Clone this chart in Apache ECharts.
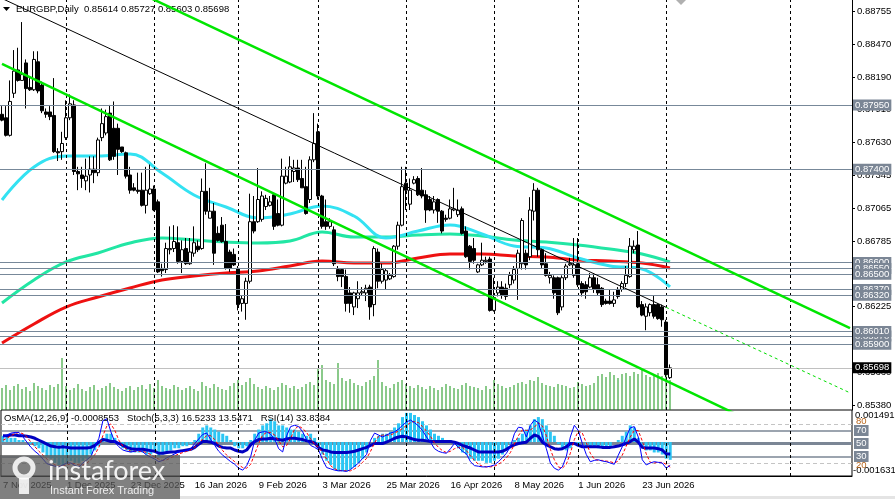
<!DOCTYPE html>
<html>
<head>
<meta charset="utf-8">
<title>EURGBP Daily</title>
<script src="https://cdn.jsdelivr.net/npm/echarts@6.0.0/dist/echarts.min.js"></script>
<style>
  html, body { margin: 0; padding: 0; background: #fff; }
  #chart { width: 895px; height: 499px; }
</style>
</head>
<body>
<div id="chart"></div>
<script>
// daily candles, [open, close, low, high], one per trading day from 7 Nov 2025
const candles = [
  [0.8787,0.8782,0.8781,0.8794],[0.8784,0.8769,0.8768,0.8794],[0.8769,0.8798,0.8768,0.8816],[0.8805,0.8824,0.8801,0.8842],
  [0.8825,0.8816,0.8815,0.8844],[0.8816,0.8821,0.8816,0.8866],[0.8831,0.8809,0.8792,0.8834],[0.8810,0.8808,0.8807,0.8819],
  [0.8808,0.8834,0.8807,0.8841],[0.8832,0.8807,0.8805,0.8841],[0.8812,0.8790,0.8788,0.8815],[0.8789,0.8787,0.8784,0.8792],
  [0.8789,0.8785,0.8782,0.8794],[0.8786,0.8755,0.8754,0.8818],[0.8755,0.8754,0.8747,0.8758],[0.8755,0.8762,0.8748,0.8772],
  [0.8767,0.8784,0.8765,0.8799],[0.8784,0.8796,0.8782,0.8804],[0.8795,0.8738,0.8735,0.8799],[0.8738,0.8736,0.8722,0.8742],
  [0.8735,0.8732,0.8724,0.8742],[0.8730,0.8734,0.8722,0.8749],[0.8735,0.8740,0.8720,0.8751],[0.8740,0.8737,0.8728,0.8751],
  [0.8737,0.8765,0.8734,0.8767],[0.8767,0.8779,0.8764,0.8792],[0.8771,0.8785,0.8769,0.8791],[0.8788,0.8748,0.8747,0.8795],
  [0.8775,0.8751,0.8748,0.8798],[0.8775,0.8757,0.8735,0.8779],[0.8759,0.8755,0.8754,0.8759],[0.8754,0.8734,0.8732,0.8755],
  [0.8735,0.8722,0.8719,0.8742],[0.8724,0.8722,0.8721,0.8728],[0.8722,0.8721,0.8719,0.8737],[0.8722,0.8709,0.8708,0.8737],
  [0.8709,0.8722,0.8702,0.8742],[0.8719,0.8723,0.8718,0.8744],[0.8723,0.8705,0.8704,0.8726],[0.8712,0.8652,0.8651,0.8714],
  [0.8655,0.8653,0.8648,0.8659],[0.8654,0.8672,0.8651,0.8677],[0.8671,0.8672,0.8667,0.8691],[0.8672,0.8678,0.8669,0.8692],
  [0.8677,0.8661,0.8659,0.8691],[0.8661,0.8671,0.8651,0.8679],[0.8672,0.8659,0.8658,0.8681],[0.8659,0.8669,0.8658,0.8681],
  [0.8668,0.8677,0.8665,0.8691],[0.8674,0.8671,0.8669,0.8679],[0.8672,0.8721,0.8671,0.8732],[0.8721,0.8704,0.8701,0.8745],
  [0.8698,0.8704,0.8698,0.8724],[0.8704,0.8668,0.8658,0.8711],[0.8685,0.8679,0.8678,0.8691],[0.8692,0.8678,0.8677,0.8699],
  [0.8678,0.8655,0.8654,0.8693],[0.8669,0.8655,0.8652,0.8671],[0.8667,0.8658,0.8657,0.8672],[0.8655,0.8624,0.8619,0.8657],
  [0.8625,0.8629,0.8618,0.8632],[0.8625,0.8644,0.8611,0.8647],[0.8644,0.8695,0.8642,0.8719],[0.8695,0.8687,0.8685,0.8717],
  [0.8695,0.8714,0.8694,0.8741],[0.8697,0.8717,0.8695,0.8721],[0.8708,0.8715,0.8705,0.8718],[0.8709,0.8712,0.8708,0.8717],
  [0.8718,0.8691,0.8688,0.8719],[0.8702,0.8692,0.8691,0.8714],[0.8692,0.8734,0.8691,0.8749],[0.8728,0.8734,0.8727,0.8742],
  [0.8729,0.8742,0.8728,0.8751],[0.8738,0.8741,0.8729,0.8748],[0.8741,0.8731,0.8729,0.8748],[0.8732,0.8724,0.8724,0.8748],
  [0.8725,0.8702,0.8701,0.8742],[0.8714,0.8748,0.8711,0.8751],[0.8748,0.8762,0.8746,0.8788],[0.8772,0.8717,0.8714,0.8779],
  [0.8717,0.8691,0.8689,0.8718],[0.8695,0.8691,0.8688,0.8714],[0.8691,0.8695,0.8689,0.8698],[0.8688,0.8659,0.8657,0.8691],
  [0.8654,0.8648,0.8644,0.8657],[0.8654,0.8648,0.8639,0.8655],[0.8648,0.8625,0.8618,0.8654],[0.8634,0.8625,0.8617,0.8639],
  [0.8622,0.8634,0.8615,0.8635],[0.8629,0.8634,0.8621,0.8644],[0.8634,0.8635,0.8632,0.8639],[0.8634,0.8638,0.8627,0.8641],
  [0.8639,0.8622,0.8611,0.8641],[0.8624,0.8672,0.8614,0.8674],[0.8669,0.8644,0.8638,0.8672],[0.8644,0.8654,0.8642,0.8659],
  [0.8645,0.8653,0.8637,0.8655],[0.8646,0.8649,0.8645,0.8651],[0.8648,0.8674,0.8647,0.8675],[0.8674,0.8692,0.8671,0.8695],
  [0.8692,0.8725,0.8691,0.8742],[0.8728,0.8722,0.8705,0.8742],[0.8710,0.8722,0.8705,0.8732],[0.8728,0.8731,0.8727,0.8734],
  [0.8732,0.8718,0.8717,0.8734],[0.8722,0.8717,0.8715,0.8741],[0.8718,0.8705,0.8694,0.8722],[0.8714,0.8705,0.8704,0.8717],
  [0.8705,0.8712,0.8702,0.8717],[0.8714,0.8704,0.8694,0.8715],[0.8704,0.8687,0.8685,0.8705],[0.8698,0.8697,0.8695,0.8701],
  [0.8698,0.8706,0.8697,0.8714],[0.8705,0.8706,0.8704,0.8724],[0.8701,0.8705,0.8699,0.8714],[0.8706,0.8685,0.8684,0.8708],
  [0.8687,0.8665,0.8664,0.8691],[0.8674,0.8661,0.8654,0.8675],[0.8672,0.8662,0.8659,0.8681],[0.8652,0.8658,0.8651,0.8659],
  [0.8658,0.8662,0.8657,0.8677],[0.8661,0.8662,0.8659,0.8665],[0.8663,0.8619,0.8618,0.8665],[0.8619,0.8630,0.8618,0.8647],
  [0.8634,0.8639,0.8631,0.8644],[0.8639,0.8632,0.8629,0.8644],[0.8638,0.8631,0.8628,0.8642],[0.8641,0.8649,0.8638,0.8652],
  [0.8645,0.8654,0.8642,0.8657],[0.8655,0.8668,0.8628,0.8671],[0.8659,0.8696,0.8654,0.8698],[0.8668,0.8658,0.8654,0.8671],
  [0.8665,0.8705,0.8662,0.8716],[0.8704,0.8722,0.8696,0.8728],[0.8722,0.8671,0.8665,0.8724],[0.8671,0.8658,0.8655,0.8672],
  [0.8659,0.8649,0.8648,0.8668],[0.8647,0.8649,0.8642,0.8652],[0.8647,0.8634,0.8629,0.8649],[0.8647,0.8617,0.8615,0.8648],
  [0.8622,0.8647,0.8619,0.8649],[0.8647,0.8657,0.8645,0.8659],[0.8658,0.8659,0.8657,0.8664],[0.8649,0.8658,0.8647,0.8681],
  [0.8659,0.8641,0.8639,0.8681],[0.8642,0.8634,0.8631,0.8644],[0.8641,0.8635,0.8629,0.8644],[0.8639,0.8647,0.8638,0.8651],
  [0.8647,0.8637,0.8634,0.8651],[0.8641,0.8634,0.8632,0.8647],[0.8638,0.8624,0.8622,0.8639],[0.8627,0.8625,0.8624,0.8629],
  [0.8627,0.8625,0.8624,0.8637],[0.8625,0.8628,0.8622,0.8635],[0.8637,0.8631,0.8629,0.8639],[0.8637,0.8642,0.8635,0.8644],
  [0.8642,0.8649,0.8639,0.8657],[0.8648,0.8674,0.8647,0.8681],[0.8671,0.8674,0.8668,0.8679],[0.8675,0.8622,0.8621,0.8687],
  [0.8624,0.8615,0.8614,0.8627],[0.8614,0.8622,0.8602,0.8625],[0.8617,0.8624,0.8614,0.8625],[0.8624,0.8614,0.8612,0.8632],
  [0.8624,0.8612,0.8611,0.8625],[0.8622,0.8611,0.8605,0.8624],[0.8609,0.8564,0.8562,0.8611],[0.85614,0.85698,0.85603,0.85727]
];

// tick volume per day
const volumes = [
  22,25,20,24,26,21,23,19,27,24,22,20,25,23,26,52,
  24,20,22,26,21,19,23,25,20,22,24,27,23,21,19,22,24,20,23,25,21,26,22,
  30,24,22,21,25,23,20,22,24,21,19,28,24,22,26,23,21,20,24,27,30,25,
  28,32,26,23,21,24,22,20,23,27,25,22,24,21,23,26,28,25,42,
  45,30,28,26,47,32,29,31,27,25,24,28,30,34,50,28,24,22,26,28,30,
  26,24,22,25,23,21,24,22,20,23,26,24,22,21,25,27,24,23,22,20,24,21,30,
  26,24,22,23,25,27,28,26,30,29,33,27,25,24,23,26,25,24,22,23,28,26,24,25,27,
  34,36,33,38,35,32,36,37,34,38,36,40,35,33,36,37,34,42,30
];

// moving averages, read every 8th bar
const maBars = [0,8,16,24,32,40,48,56,64,72,80,88,96,104,112,120,128,136,144,152,160,167];
const maFast = [0.87136,0.87419,0.87513,0.87513,0.87530,0.87367,0.87179,0.87076,0.86982,0.87016,0.87085,
  0.86999,0.86811,0.86870,0.86922,0.86845,0.86742,0.86725,0.86639,0.86571,0.86545,0.86391];
const maMid = [0.86254,0.86451,0.86605,0.86682,0.86768,0.86811,0.86793,0.86776,0.86768,0.86785,0.86862,
  0.86819,0.86819,0.86836,0.86845,0.86828,0.86793,0.86776,0.86751,0.86716,0.86673,0.86605];
const maSlow = [0.85911,0.86074,0.86219,0.86305,0.86382,0.86451,0.86485,0.86511,0.86528,0.86571,0.86613,
  0.86596,0.86596,0.86639,0.86673,0.86673,0.86656,0.86648,0.86622,0.86613,0.86596,0.86554];

// channel lines, [bar, price]
const channelUpper = [[0, 0.89466], [212, 0.86039]];
const channelMid = [[0, 0.88862], [166, 0.86217]];
const channelMidExt = [[166, 0.86217], [212, 0.85484]];
const channelLower = [[0, 0.88301], [212, 0.84836]];

// horizontal levels
const levels = [0.8795, 0.8740, 0.8660, 0.8655, 0.8650, 0.8637, 0.8632, 0.8597, 0.8601, 0.8590];
const lastPrice = 0.85698;
const priceTicks = [0.88755,0.88470,0.88190,0.87910,0.87630,0.87345,0.87065,0.86785,0.86505,0.86225,0.85945,0.85660,0.85380];

// time axis
const dateLabels = ['7 Nov 2025','1 Dec 2025','23 Dec 2025','16 Jan 2026','9 Feb 2026','3 Mar 2026',
  '25 Mar 2026','16 Apr 2026','8 May 2026','1 Jun 2026','23 Jun 2026'];
const labelStep = 16;
const monthStarts = [16, 38, 59, 79, 101, 123, 144, 166, 197];
const slotCount = 213;

// OsMA(12,26,9)
const osma = [
  0.0003,0.0003,0.0002,0.0002,0.0001,0.0001,0.0000,-0.0001,-0.0002,
  -0.0003,-0.0005,-0.0007,-0.0008,-0.0010,-0.0011,-0.0011,-0.0010,-0.0009,-0.0010,-0.0010,-0.0009,-0.0008,-0.0006,-0.0004,-0.0002,
  0.0002,0.0004,0.0004,0.0002,
  -0.0001,-0.0003,-0.0004,-0.0005,-0.0005,-0.0005,-0.0005,
  -0.0006,-0.0006,-0.0005,-0.0007,-0.0006,-0.0005,
  -0.0004,-0.0003,-0.0003,-0.0002,-0.0002,-0.0001,0.0001,
  0.0004,0.0007,0.0008,0.0007,0.0006,0.0005,0.0004,0.0003,
  0.0001,-0.0002,-0.0003,-0.0003,-0.0002,
  0.0001,0.0004,0.0006,0.0008,0.0009,0.0011,0.0010,0.0008,0.0008,0.0007,0.0006,0.0006,0.0005,0.0004,0.0003,0.0004,0.0002,
  -0.0002,-0.0006,-0.0009,-0.0011,-0.0013,-0.0014,-0.0014,-0.0014,-0.0013,-0.0012,-0.0010,-0.0008,-0.0005,
  0.0000,0.0002,0.0003,0.0004,0.0004,0.0005,0.0007,0.0009,0.0012,0.0014,0.0014,0.0013,0.0012,0.0010,0.0008,0.0006,0.0004,0.0003,0.0002,0.0001,0.0001,
  -0.0001,-0.0003,-0.0005,-0.0006,-0.0008,-0.0009,-0.0009,-0.0009,-0.0010,-0.0010,-0.0009,-0.0008,-0.0006,-0.0004,
  -0.0001,0.0001,0.0002,0.0004,0.0006,0.0008,0.0011,0.0012,0.0011,0.0008,0.0005,0.0003,
  -0.0001,-0.0003,-0.0004,-0.0003,-0.0001,
  -0.0001,0.0000,-0.0002,-0.0002,-0.0002,-0.0003,-0.0003,-0.0002,-0.0002,
  0.0000,0.0001,0.0003,0.0005,0.0008,0.0007,
  0.0002,-0.0002,-0.0004,-0.0004,-0.0005,-0.0005,-0.0006,-0.0008,-0.0008553
];

// Stochastic(5,3,3) main and signal
const stochMain = [
  60,63,66,67,67,60,52,44,38,33, 26,19,17,15,14,17,20,20,16,14,
  20,25,30,45,58,85,88,68,52,45, 40,38,37,38,40,37,32,29,26,22,
  24,28,31,34,37,38,39,42,50,57, 64,66,56,47,38,32,27,22,18,12,
  9,16,30,55,66,68,68,64,57,42, 37,62,76,78,76,68,56,47,44,40,
  25,13,11,9,8,8,7,10,15,20, 27,33,55,66,63,60,63,66,68,72,
  78,83,86,82,77,70,60,52,42,38, 36,35,42,50,44,38,34,22,16,15,
  14,14,15,17,22,28,35,45,65,75, 74,60,78,86,82,62,42,20,12,9,
  14,30,60,78,70,50,33,22,24,25, 23,22,20,18,32,45,60,74,76,60,
  25,17,20,22,21,20,12,16.52
];
const stochSignal = [
  55,58,62,65,67,65,60,52,45,38, 32,26,21,17,15,15,17,19,19,17,
  17,20,25,33,44,62,77,80,70,55, 46,41,38,38,38,38,36,33,29,26,
  24,25,28,31,34,36,38,40,44,50, 57,62,62,56,47,39,32,27,22,17,
  13,12,18,34,50,63,67,67,63,54, 45,47,58,72,77,73,67,57,49,44,
  36,26,16,11,9,8,8,8,11,15, 21,27,38,51,61,63,63,63,66,69,
  73,78,82,84,82,76,69,61,51,44, 39,36,38,42,44,44,39,31,24,18,
  15,14,14,15,18,22,28,36,49,62, 71,70,71,75,82,77,62,41,25,14,
  12,18,35,56,69,66,51,35,26,24, 24,23,22,20,23,32,46,60,70,70,
  54,34,21,20,21,21,18,13.55
];

// RSI(14)
const rsi = [
  62,62,63,63,62,62,61,60,58,55, 52,49,46,45,44,45,44,43,43,43,
  43,43,44,47,52,56,55,53,53,50, 47,44,42,41,41,41,40,39,38,35,
  35,36,37,37,38,39,40,41,44,49, 53,53,52,50,46,44,43,43,40,38,
  37,40,48,53,56,57,57,58,57,56, 55,57,58,58,57,56,54,53,51,44,
  40,39,37,36,36,36,36,37,38,40, 42,44,47,50,50,50,52,55,58,60,
  61,60,58,56,55,55,54,53,53,53, 53,53,53,52,50,47,45,43,40,37,
  37,37,37,37,37,38,41,45,48,50, 51,52,58,63,61,52,48,45,42,41,
  42,45,50,50,47,45,45,45,45,45, 44,44,44,45,46,48,50,53,57,52,
  44,43,43,43,42,40,34,33.84
];

const FONT = '"Liberation Sans", Arial, sans-serif';
const slots = Array.from({ length: slotCount }, (_, i) => String(i));
const pairs = (ys) => maBars.map((b, i) => [b, ys[i]]);

const levelLine = { color: '#778899', width: 1, type: 'solid' };
const boxLabel = {
  show: true, position: 'end', distance: 1,
  color: '#fff', backgroundColor: '#7b8695', padding: [1, 2, 0, 2],
  fontFamily: FONT, fontSize: 9.5,
  formatter: (p) => Number(p.value).toFixed(5)
};
const sepLine = { color: '#000', width: 1, type: [3, 3] };

const chart = echarts.init(document.getElementById('chart'));

chart.setOption({
  animation: false,
  backgroundColor: '#fff',
  grid: [
    { left: -2, right: 43, top: 0, height: 410 },
    { left: -2, right: 43, top: 410, height: 66, show: true, borderColor: '#000', borderWidth: 1, backgroundColor: 'transparent' }
  ],
  xAxis: [
    { type: 'category', gridIndex: 0, data: slots, show: false },
    {
      type: 'category', gridIndex: 1, data: slots,
      axisLine: { lineStyle: { color: '#000' } },
      axisTick: { show: false },
      axisLabel: {
        interval: (idx) => idx % labelStep === 0 && idx / labelStep < dateLabels.length,
        formatter: (v, idx) => dateLabels[idx / labelStep] || '',
        align: 'left', margin: 4, color: '#000', fontFamily: FONT, fontSize: 9.5
      }
    }
  ],
  yAxis: [
    {
      type: 'value', gridIndex: 0, position: 'right', min: 0.85337, max: 0.88849,
      splitLine: { show: false },
      axisLine: { show: true, lineStyle: { color: '#000' } },
      axisTick: { show: true, length: 3, customValues: priceTicks, lineStyle: { color: '#000' } },
      axisLabel: {
        customValues: priceTicks, margin: 5, color: '#000', fontFamily: FONT, fontSize: 9.5,
        formatter: (v) => v.toFixed(5)
      }
    },
    { type: 'value', gridIndex: 0, min: 0, max: 410, show: false },
    { type: 'value', gridIndex: 1, min: 0, max: 101.5, show: false },
    { type: 'value', gridIndex: 1, min: -0.001631, max: 0.0015399, show: false }
  ],
  series: [
    {
      name: 'Volume', type: 'bar', xAxisIndex: 0, yAxisIndex: 1, data: volumes,
      barWidth: 1, itemStyle: { color: '#169616' }, z: 1,
      markLine: {
        silent: true, symbol: 'none', label: { show: false }, lineStyle: sepLine,
        data: monthStarts.map((b) => ({ xAxis: b }))
      }
    },
    {
      name: 'MA slow', type: 'line', xAxisIndex: 0, yAxisIndex: 0, data: pairs(maSlow),
      smooth: 0.4, symbol: 'none', lineStyle: { color: '#ee1111', width: 3 }, z: 3
    },
    {
      name: 'MA mid', type: 'line', xAxisIndex: 0, yAxisIndex: 0, data: pairs(maMid),
      smooth: 0.4, symbol: 'none', lineStyle: { color: '#22e6a4', width: 3 }, z: 3
    },
    {
      name: 'MA fast', type: 'line', xAxisIndex: 0, yAxisIndex: 0, data: pairs(maFast),
      smooth: 0.4, symbol: 'none', lineStyle: { color: '#33e2f2', width: 3 }, z: 3
    },
    {
      name: 'EURGBP', type: 'candlestick', xAxisIndex: 0, yAxisIndex: 0, data: candles,
      barWidth: 3, z: 5,
      itemStyle: { color: '#fff', color0: '#000', borderColor: '#000', borderColor0: '#000', borderWidth: 1 },
      markLine: {
        silent: true, symbol: 'none', precision: 5, z: 6,
        lineStyle: levelLine, label: boxLabel,
        data: levels.map((v) => ({ yAxis: v })).concat([{
          yAxis: lastPrice,
          lineStyle: { color: '#c0c0c0', width: 1, type: 'solid' },
          label: { backgroundColor: '#000', color: '#fff' }
        }])
      }
    },
    {
      name: 'Channel upper', type: 'line', xAxisIndex: 0, yAxisIndex: 0, data: channelUpper,
      symbol: 'none', lineStyle: { color: '#00e600', width: 2.5 }, z: 7
    },
    {
      name: 'Channel lower', type: 'line', xAxisIndex: 0, yAxisIndex: 0, data: channelLower,
      symbol: 'none', lineStyle: { color: '#00e600', width: 2.5 }, z: 7
    },
    {
      name: 'Channel mid', type: 'line', xAxisIndex: 0, yAxisIndex: 0, data: channelMid,
      symbol: 'none', lineStyle: { color: '#000', width: 1 }, z: 7
    },
    {
      name: 'Channel mid ext', type: 'line', xAxisIndex: 0, yAxisIndex: 0, data: channelMidExt,
      symbol: 'none', lineStyle: { color: '#00dd00', width: 1, type: [3, 3] }, z: 7
    },
    {
      name: 'OsMA', type: 'bar', xAxisIndex: 1, yAxisIndex: 3, data: osma,
      barWidth: 3, itemStyle: { color: '#2cc6f4' }, z: 2,
      markLine: {
        silent: true, symbol: 'none', label: { show: false }, lineStyle: sepLine,
        data: monthStarts.map((b) => ({ xAxis: b }))
      }
    },
    {
      name: 'RSI', type: 'line', xAxisIndex: 1, yAxisIndex: 2, data: rsi,
      symbol: 'none', lineStyle: { color: '#0000c0', width: 3 }, z: 4
    },
    {
      name: 'Stoch signal', type: 'line', xAxisIndex: 1, yAxisIndex: 2, data: stochSignal,
      symbol: 'none', lineStyle: { color: '#ff0000', width: 1, type: [3, 2] }, z: 4
    },
    {
      name: 'Stoch main', type: 'line', xAxisIndex: 1, yAxisIndex: 2, data: stochMain,
      symbol: 'none', lineStyle: { color: '#0000ff', width: 1 }, z: 4,
      markLine: {
        silent: true, symbol: 'none', z: 1,
        label: {
          show: true, position: 'end', distance: 2, color: '#fff', backgroundColor: '#7b8695',
          padding: [1, 2, 0, 2], fontFamily: FONT, fontSize: 9.5, formatter: (p) => String(p.value)
        },
        data: [
          { yAxis: 80, lineStyle: { color: '#c4c4c4', width: 1, type: [4, 3] },
            label: { color: '#b8651b', backgroundColor: 'transparent', offset: [0, -3] } },
          { yAxis: 20, lineStyle: { color: '#c4c4c4', width: 1, type: [4, 3] },
            label: { color: '#b8651b', backgroundColor: 'transparent', offset: [0, 2] } },
          { yAxis: 70, lineStyle: { color: '#7b8695', width: 1.5, type: 'solid' } },
          { yAxis: 50, lineStyle: { color: '#7b8695', width: 3, type: 'solid' } },
          { yAxis: 30, lineStyle: { color: '#7b8695', width: 1.5, type: 'solid' } }
        ]
      }
    }
  ],
  graphic: [
    { type: 'polygon', shape: { points: [[3, 7], [10, 7], [6.5, 11]] }, style: { fill: '#000' } },
    { type: 'text', x: 16, y: 9, style: { text: 'EURGBP,Daily  0.85614 0.85727 0.85603 0.85698',
      fill: '#000', font: '9.5px ' + FONT, textVerticalAlign: 'middle' } },
    { type: 'polygon', shape: { points: [[676, 0], [686, 0], [681, 5]] }, style: { fill: '#b0b0b0' } },
    { type: 'text', x: 4, y: 418, z: 10, style: { text: 'OsMA(12,26,9) -0.0008553   Stoch(5,3,3) 16.5233 13.5471   RSI(14) 33.8384',
      fill: '#000', font: '9.5px ' + FONT, textVerticalAlign: 'middle' } },
    { type: 'text', x: 855, y: 415, style: { text: '0.0014919', fill: '#000', font: '9.5px ' + FONT, textVerticalAlign: 'middle' } },
    { type: 'text', x: 853, y: 470, style: { text: '-0.001631', fill: '#000', font: '9.5px ' + FONT, textVerticalAlign: 'middle' } },
    { type: 'rect', shape: { x: 0, y: 455, width: 180, height: 44 }, style: { fill: 'rgba(85,85,85,0.75)' }, z: 20 },
    { type: 'circle', shape: { cx: 24, cy: 468, r: 9 }, style: { fill: 'none', stroke: 'rgba(255,255,255,0.85)', lineWidth: 5 }, z: 21 },
    { type: 'rect', shape: { x: 19, y: 478, width: 10, height: 16 }, style: { fill: 'rgba(255,255,255,0.85)' }, z: 21 },
    { type: 'text', x: 48, y: 471, z: 21, style: { text: 'instaforex', fill: 'rgba(255,255,255,0.9)',
      font: '27px Lato, "Open Sans", sans-serif', textVerticalAlign: 'middle' } },
    { type: 'text', x: 50, y: 491, z: 21, style: { text: 'Instant Forex Trading', fill: 'rgba(255,255,255,0.85)',
      font: '11px ' + FONT, textVerticalAlign: 'middle' } },
    { type: 'rect', shape: { x: 180, y: 496, width: 715, height: 3 }, style: { fill: '#e4e4e4' } }
  ]
});
</script>
</body>
</html>
